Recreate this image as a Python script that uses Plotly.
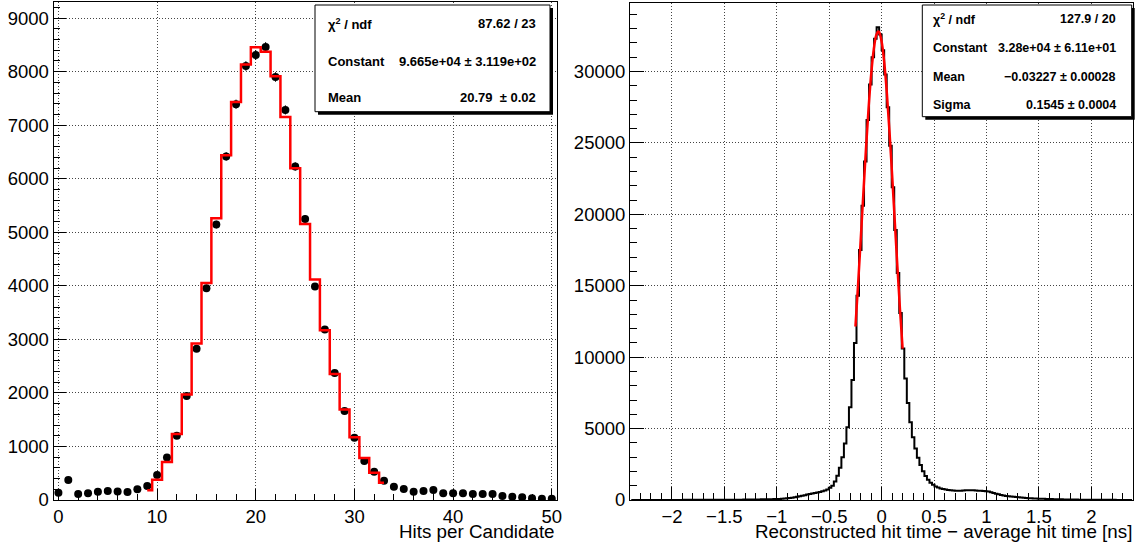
import numpy as np
import plotly.graph_objects as go

# effective drawing area as photographed (figure fills the browser viewport)
W_EFF, H_EFF = 1139, 537

# ---------------- Left panel: hits per candidate ----------------
hits = list(range(0, 51))
hits_counts = [136, 373, 112, 124, 155, 168, 158, 149, 199, 261,
               466, 795, 1199, 1944, 2826, 3956, 5143, 6416, 7391, 8105,
               8310, 8459, 7900, 7285, 6229, 5248, 3987, 3186, 2372, 1664,
               1161, 727, 528, 360, 248, 205, 155, 168, 186, 124,
               124, 124, 112, 112, 112, 75, 62, 50, 31, 25, 25]
fit_hits = list(range(9, 34))
fit_hits_vals = [181, 376, 710, 1231, 1968, 2923, 4051, 5263, 6437, 7434,
                 8135, 8456, 8372, 7912, 7151, 6195, 5152, 4119, 3172, 2355,
                 1688, 1170, 785, 510, 321]

# ---------------- Right panel: hit time residual ----------------
time_lo, time_hi, time_nbins = -2.4, 2.4, 200
time_counts = [
    2, 2, 2, 3, 3, 3, 3, 4, 4, 4,
    4, 5, 5, 5, 6, 6, 6, 7, 7, 8,
    8, 9, 9, 10, 10, 11, 11, 12, 12, 13,
    13, 14, 14, 15, 16, 16, 17, 18, 19, 19,
    20, 21, 23, 24, 26, 28, 30, 32, 34, 36,
    38, 41, 44, 47, 50, 54, 58, 62, 67, 72,
    85, 100, 118, 140, 165, 195, 228, 262, 300, 340,
    380, 415, 450, 485, 525, 565, 610, 665, 740, 850,
    1000, 1300, 1700, 2250, 3000, 3950, 5100, 6500, 8400, 11000,
    14300, 17500, 20600, 23700, 26600, 29100, 31000, 32300, 33100, 32600,
    31500, 29800, 27500, 24800, 21900, 18900, 15900, 13100, 10600, 8500,
    6800, 5450, 4400, 3600, 2950, 2450, 2020, 1680, 1420, 1210,
    1060, 950, 870, 810, 765, 730, 700, 680, 665, 655,
    650, 655, 665, 680, 690, 685, 675, 665, 655, 645,
    635, 620, 590, 545, 495, 445, 400, 355, 315, 285,
    260, 240, 220, 202, 185, 168, 152, 138, 126, 115,
    106, 99, 94, 89, 84, 78, 72, 66, 61, 56,
    51, 47, 43, 39, 36, 33, 30, 28, 26, 24,
    22, 20, 19, 17, 16, 15, 14, 13, 12, 11,
    10, 9, 9, 8, 8, 7, 7, 6, 6, 5]
gauss_x = [-0.25, -0.225, -0.2, -0.175, -0.15, -0.125, -0.1, -0.075, -0.05, -0.0323,
           -0.025, 0.0, 0.025, 0.05, 0.075, 0.1, 0.125, 0.15, 0.175, 0.2]
gauss_y = [12149, 15066, 18194, 21409, 24538, 27395, 29795, 31569, 32585, 32800,
           32764, 32092, 30622, 28464, 25777, 22736, 19538, 16356, 13337, 10595]

left_stats = [("χ<sup>2</sup> / ndf", "87.62 / 23"),
              ("Constant", "9.665e+04 ± 3.119e+02"),
              ("Mean", "20.79  ± 0.02")]
right_stats = [("χ<sup>2</sup> / ndf", "127.9 / 20"),
               ("Constant", "3.28e+04 ± 6.11e+01"),
               ("Mean", "−0.03227 ± 0.00028"),
               ("Sigma", "0.1545 ± 0.0004")]

FONT = "Liberation Sans, Arial, Helvetica, sans-serif"


def px(x):
    return x / W_EFF


def py(y):
    return 1 - y / H_EFF


time_w = (time_hi - time_lo) / time_nbins
time_centers = time_lo + time_w * (np.arange(time_nbins) + 0.5)

fig = go.Figure()
fig.add_trace(go.Scatter(
    x=hits, y=hits_counts, mode="markers",
    marker=dict(color="black", size=8),
    error_y=dict(type="data", array=np.sqrt(hits_counts), width=0, thickness=1, color="black"),
    xaxis="x", yaxis="y"))
fig.add_trace(go.Scatter(
    x=fit_hits, y=fit_hits_vals, mode="lines", line=dict(color="#ff0000", width=2.5, shape="hvh"),
    xaxis="x", yaxis="y"))
fig.add_trace(go.Scatter(
    x=time_centers, y=time_counts, mode="lines", line=dict(color="black", width=2, shape="hvh"),
    xaxis="x2", yaxis="y2"))
fig.add_trace(go.Scatter(
    x=gauss_x, y=gauss_y, mode="lines", line=dict(color="#ff0000", width=2.5, shape="spline"),
    xaxis="x2", yaxis="y2"))

axis_common = dict(showline=True, mirror=True, linecolor="black", linewidth=1,
                   ticks="inside", tickcolor="black", showgrid=True,
                   gridcolor="#444", griddash="1px,2px", gridwidth=1, zeroline=False,
                   tickformat="d",
                   tickfont=dict(family=FONT, size=18.5, color="black"))

fig.update_layout(
    autosize=True, margin=dict(l=0, r=0, t=0, b=0),
    plot_bgcolor="white", paper_bgcolor="white", showlegend=False,
    xaxis=dict(domain=[px(53.5), px(556.7)], range=[-0.5, 50.5], anchor="y",
               tickmode="linear", tick0=0, dtick=10, ticklen=11,
               minor=dict(ticks="inside", dtick=2, tick0=0, ticklen=6, tickcolor="black"),
               **axis_common),
    yaxis=dict(domain=[py(500), py(2)], range=[0, 9300], anchor="x",
               tickmode="linear", tick0=0, dtick=1000, ticklen=12,
               minor=dict(ticks="inside", dtick=200, tick0=0, ticklen=6, tickcolor="black"),
               **axis_common),
    xaxis2=dict(domain=[px(630), px(1133.3)], range=[-2.4, 2.4], anchor="y2",
                tickmode="linear", tick0=0, dtick=0.5, ticklen=13,
                minor=dict(ticks="inside", dtick=0.1, tick0=0, ticklen=7, tickcolor="black"),
                **{**axis_common, "tickformat": ""}),
    yaxis2=dict(domain=[py(500), py(3)], range=[0, 34800], anchor="x2",
                tickmode="linear", tick0=0, dtick=5000, ticklen=14,
                minor=dict(ticks="inside", dtick=1000, tick0=0, ticklen=7, tickcolor="black"),
                **axis_common),
)

shapes = []
annotations = []


def stats_box(x0, y0, x1, y1, rows, row_y, xl, xr, fs):
    shapes.append(dict(type="rect", xref="paper", yref="paper",
                       x0=px(x0 + 3), x1=px(x1 + 3), y0=py(y1 + 3), y1=py(y0 + 3),
                       fillcolor="black", line=dict(width=0), layer="above"))
    shapes.append(dict(type="rect", xref="paper", yref="paper",
                       x0=px(x0), x1=px(x1), y0=py(y1), y1=py(y0),
                       fillcolor="white", line=dict(color="black", width=1), layer="above"))
    for (lab, val), yc in zip(rows, row_y):
        annotations.append(dict(xref="paper", yref="paper", x=px(xl), y=py(yc),
                                xanchor="left", yanchor="middle", showarrow=False,
                                text="<b>" + lab + "</b>",
                                font=dict(family=FONT, size=fs, color="black")))
        annotations.append(dict(xref="paper", yref="paper", x=px(xr), y=py(yc),
                                xanchor="right", yanchor="middle", showarrow=False,
                                text="<b>" + val + "</b>",
                                font=dict(family=FONT, size=fs, color="black")))


stats_box(315, 5, 550, 111.7, left_stats, [24, 61, 97.5], 326, 538, 13)
stats_box(922.3, 5, 1131.7, 116.7, right_stats, [19.5, 48.3, 77.3, 105], 931, 1118, 12.5)

annotations.append(dict(xref="paper", yref="paper", x=px(556.5), y=py(531.5), xanchor="right",
                        yanchor="middle", showarrow=False, text="Hits per Candidate",
                        font=dict(family=FONT, size=18.8, color="black")))
annotations.append(dict(xref="paper", yref="paper", x=px(1133.5), y=py(531.5), xanchor="right",
                        yanchor="middle", showarrow=False,
                        text="Reconstructed hit time − average hit time [ns]",
                        font=dict(family=FONT, size=18.8, color="black")))

fig.update_layout(shapes=shapes, annotations=annotations)

post = """
document.documentElement.style.margin='0';
document.documentElement.style.height='100%';
document.documentElement.style.overflow='hidden';
document.body.style.margin='0';
document.body.style.height='100%';
document.body.style.overflow='hidden';
var gd = document.getElementById('{plot_id}');
gd.parentElement.style.height='100%';
gd.style.height='100%';
gd.style.width='100%';
Plotly.Plots.resize(gd);
"""
fig.write_html("out.html", default_width="100%", default_height="100%",
               config={"displayModeBar": False, "responsive": True},
               post_script=post)
